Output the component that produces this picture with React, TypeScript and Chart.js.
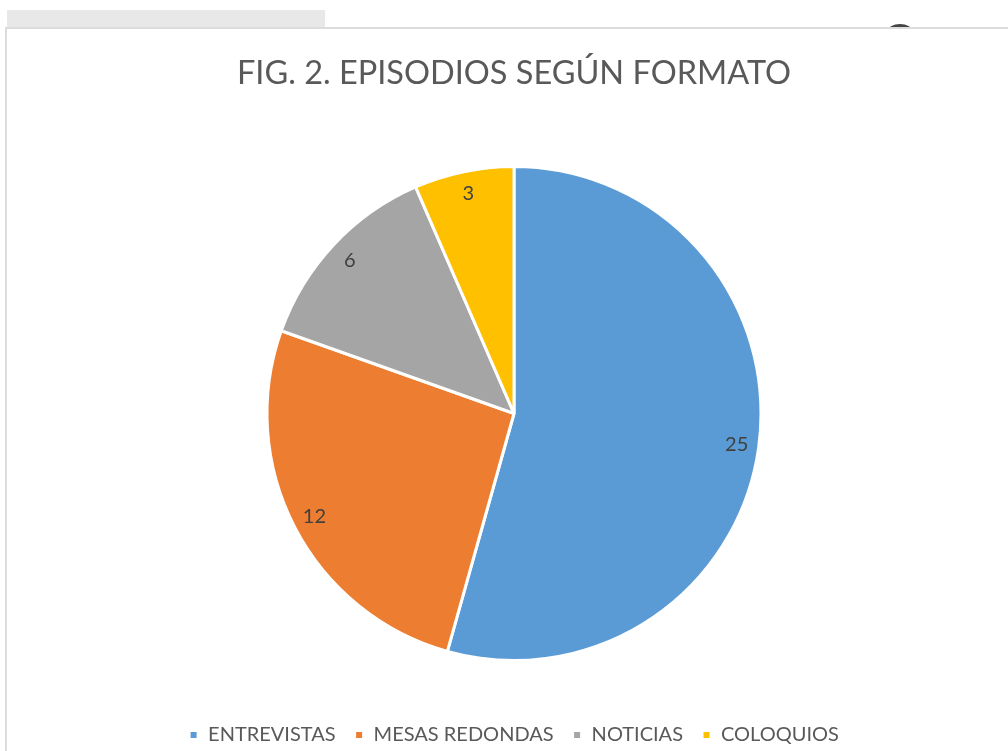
import React, { useEffect, useRef } from "react";
import { Chart, registerables } from "chart.js";

Chart.register(...registerables);

const categories = ["ENTREVISTAS", "MESAS REDONDAS", "NOTICIAS", "COLOQUIOS"];
const episodes = [25, 12, 6, 3];
const sliceColors = ["#5B9BD5", "#ED7D31", "#A5A5A5", "#FFC000"];
const titleText = "FIG. 2. EPISODIOS SEGÚN FORMATO";

const FONT = "Lato, 'Open Sans', sans-serif";

const labelPlugin = {
  id: "sliceLabels",
  afterDatasetsDraw(chart: any) {
    const ctx = chart.ctx;
    const meta = chart.getDatasetMeta(0);
    ctx.save();
    ctx.fillStyle = "#404040";
    ctx.font = `20px ${FONT}`;
    ctx.textAlign = "center";
    ctx.textBaseline = "middle";
    meta.data.forEach((arc: any, i: number) => {
      const p = arc.getProps(["x", "y", "startAngle", "endAngle", "outerRadius"], true);
      const mid = (p.startAngle + p.endAngle) / 2;
      const r = p.outerRadius * 0.91;
      ctx.fillText(String(chart.data.datasets[0].data[i]), p.x + Math.cos(mid) * r, p.y + Math.sin(mid) * r);
    });
    ctx.restore();
  },
};

export default function App() {
  const canvasRef = useRef<HTMLCanvasElement | null>(null);

  useEffect(() => {
    if (!canvasRef.current) return;
    const chart = new Chart(canvasRef.current, {
      type: "pie",
      data: {
        labels: categories,
        datasets: [
          {
            data: episodes,
            backgroundColor: sliceColors,
            borderColor: "#ffffff",
            borderWidth: 3,
            radius: 247,
          },
        ],
      },
      options: {
        responsive: false,
        animation: false,
        layout: { padding: { left: 20, right: 0, top: 0, bottom: -4 } },
        plugins: {
          title: {
            display: true,
            text: titleText,
            color: "#595959",
            font: { family: FONT, size: 32.5, weight: "normal" },
            padding: { top: 54, bottom: 28 },
          },
          legend: {
            position: "bottom",
            labels: {
              color: "#595959",
              font: { family: FONT, size: 20 },
              boxWidth: 9,
              boxHeight: 9,
              padding: 19,
            },
          },
          tooltip: { enabled: false },
        },
      },
      plugins: [labelPlugin],
    });
    return () => chart.destroy();
  }, []);

  return (
    <div style={{ position: "absolute", left: 0, top: 0, width: 1008, height: 751, overflow: "hidden", background: "#fff" }}>
      <div style={{ position: "absolute", left: 7, top: 10, width: 318, height: 18, background: "#e8e8e8" }} />
      <div style={{ position: "absolute", left: 888, top: 24, width: 24, height: 14, borderRadius: "50%", background: "#444" }} />
      <div style={{ position: "absolute", left: 5, top: 27, width: 1010, height: 740, border: "2px solid #dcdcdc", background: "#fff" }} />
      <canvas ref={canvasRef} width={1008} height={751} style={{ position: "absolute", left: 0, top: 0 }} />
    </div>
  );
}
